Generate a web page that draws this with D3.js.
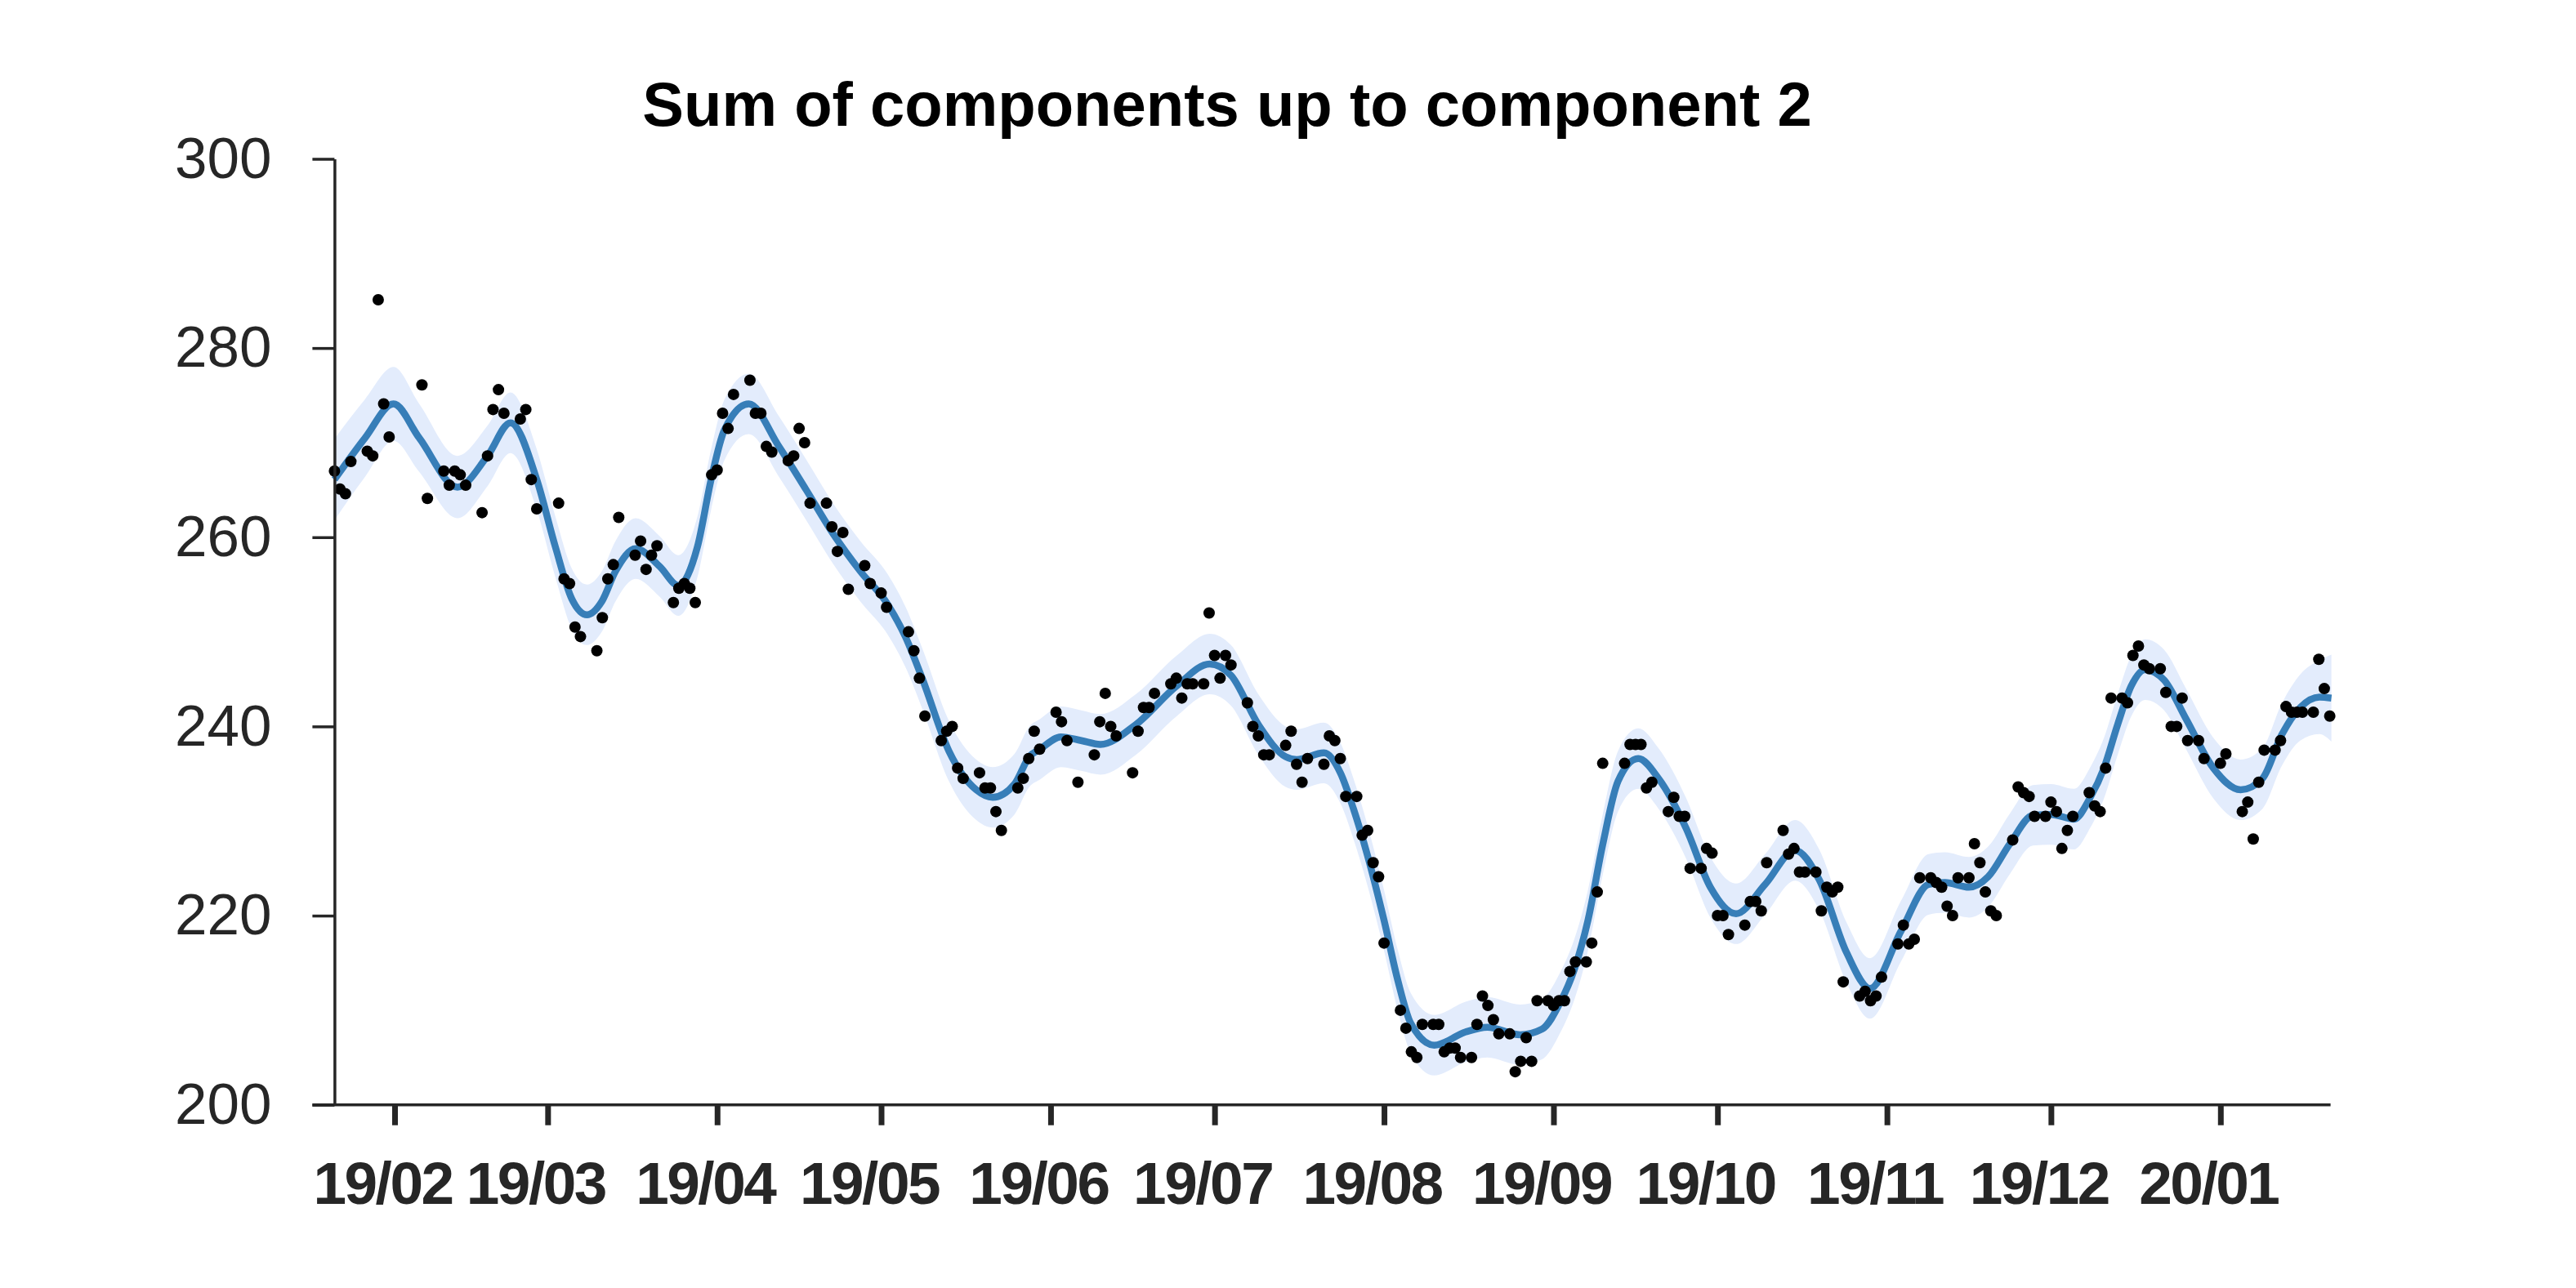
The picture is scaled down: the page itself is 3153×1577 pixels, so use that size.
<!DOCTYPE html>
<html><head><meta charset="utf-8">
<script src="https://cdn.jsdelivr.net/npm/d3@7"></script>
<style>html,body{margin:0;padding:0;background:#fff;}svg{display:block}</style>
</head><body>
<svg id="chart" width="3153" height="1577"></svg>
<script>
// ---------- data ----------
const chartTitle = "Sum of components up to component 2";
const startDate = "2019-01-21";   // day 0
const endDate = "2020-01-21";
const yTickValues = [200, 220, 240, 260, 280, 300];
const xTickFormat = "%y/%m";

// observations: [day offset from startDate, value]
const observations = [
[0,267.0],[1,265.1],[2,264.6],[3,268.0],[6,269.1],[7,268.6],[8,285.1],[9,274.1],[10,270.6],[16,276.1],[17,264.1],
[20,267.0],[21,265.5],[22,267.0],[23,266.6],[24,265.5],[27,262.6],[28,268.6],[29,273.5],[30,275.6],[31,273.1],
[34,272.5],[35,273.5],[36,266.1],[37,263.0],[41,263.6],[42,255.6],[43,255.1],[44,250.5],[45,249.5],[48,248.0],
[49,251.5],[50,255.6],[51,257.1],[52,262.1],[55,258.1],[56,259.6],[57,256.6],[58,258.1],[59,259.1],[62,253.1],
[63,254.6],[64,255.1],[65,254.6],[66,253.1],[69,266.6],[70,267.1],[71,273.1],[72,271.5],[73,275.1],[76,276.6],
[77,273.1],[78,273.1],[79,269.6],[80,269.0],[83,268.1],[84,268.6],[85,271.5],[86,270.0],[87,263.6],[90,263.6],
[91,261.1],[92,258.5],[93,260.5],[94,254.5],[97,257.0],[98,255.1],[100,254.1],[101,252.6],[105,250.0],[106,248.0],
[107,245.1],[108,241.1],[111,238.5],[112,239.5],[113,240.0],[114,235.6],[115,234.5],[118,235.1],[119,233.5],
[120,233.5],[121,231.0],[122,229.0],[125,233.5],[126,234.5],[127,236.6],[128,239.5],[129,237.6],[132,241.5],
[133,240.5],[134,238.5],[136,234.1],[139,237.0],[140,240.5],[141,243.5],[142,240.0],[143,239.0],[146,235.1],
[147,239.5],[148,242.0],[149,242.0],[150,243.5],[153,244.5],[154,245.1],[155,243.0],[156,244.5],[157,244.5],
[159,244.5],[160,252.0],[161,247.5],[162,245.1],[163,247.5],[164,246.5],[167,242.5],[168,240.0],[169,239.0],
[170,237.0],[171,237.0],[174,238.0],[175,239.5],[176,236.0],[177,234.1],[178,236.6],[181,236.0],[182,239.0],
[183,238.5],[184,236.6],[185,232.6],[187,232.6],[188,228.5],[189,229.0],[190,225.6],[191,224.1],[192,217.1],
[195,210.0],[196,208.1],[197,205.6],[198,205.0],[199,208.5],[201,208.5],[202,208.5],[203,205.6],[204,206.0],
[205,206.0],[206,205.0],[208,205.0],[209,208.5],[210,211.5],[211,210.5],[212,209.0],[213,207.5],[215,207.5],
[216,203.5],[217,204.6],[218,207.1],[219,204.6],[220,211.0],[222,211.0],[223,210.5],[224,211.0],[225,211.0],
[226,214.1],[227,215.1],[229,215.1],[230,217.1],[231,222.5],[232,236.1],[236,236.1],[237,238.1],[238,238.1],
[239,238.1],[240,233.5],[241,234.1],[244,231.0],[245,232.5],[246,230.5],[247,230.5],[248,225.0],[250,225.0],
[251,227.1],[252,226.6],[253,220.0],[254,220.0],[255,218.0],[258,219.0],[259,221.5],[260,221.5],[261,220.5],
[262,225.6],[265,229.0],[266,226.5],[267,227.1],[268,224.6],[269,224.6],[271,224.6],[272,220.5],[273,223.0],
[274,222.5],[275,223.0],[276,213.0],[279,211.5],[280,212.0],[281,211.0],[282,211.5],[283,213.5],[286,217.0],
[287,219.0],[288,217.0],[289,217.5],[290,224.0],[292,224.0],[293,223.5],[294,223.0],[295,221.0],[296,220.0],
[297,224.0],[299,224.0],[300,227.6],[301,225.6],[302,222.5],[303,220.5],[304,220.0],[307,228.0],[308,233.6],
[309,233.0],[310,232.6],[311,230.5],[313,230.5],[314,232.0],[315,231.0],[316,227.1],[317,229.0],[318,230.5],
[321,233.0],[322,231.6],[323,231.0],[324,235.6],[325,243.0],[327,243.0],[328,242.5],[329,247.5],[330,248.5],
[331,246.5],[332,246.1],[334,246.1],[335,243.6],[336,240.0],[337,240.0],[338,243.0],[339,238.5],[341,238.5],
[342,236.6],[345,236.1],[346,237.1],[349,231.0],[350,232.0],[351,228.1],[352,234.1],[353,237.5],[355,237.5],
[356,238.5],[357,242.1],[358,241.5],[359,241.5],[360,241.5],[362,241.5],[363,247.1],[364,244.0],[365,241.1]
];

// fitted mean: [day offset, mean value]
const fitMean = [
[0,266.1],[5.6,270.5],[10.8,274.1],[15.5,270.5],[22.5,265.3],[28,268.6],[32.2,272.1],[37,266.1],[40.4,259.0],
[43.4,253.5],[46.2,251.8],[48.9,253.2],[51.4,256.4],[55.1,258.8],[59.5,256.9],[62.9,254.9],[66.4,259.0],
[68.9,266.1],[71.3,271.3],[75.8,274.1],[81.3,269.6],[86.3,265.0],[91.3,260.3],[96.2,256.4],[101.2,252.9],
[104.5,249.4],[107.5,245.1],[112.4,237.4],[117.4,233.3],[120.4,232.5],[124.4,233.9],[127.1,236.8],[129.1,237.6],
[132.9,238.9],[136.6,238.5],[140.1,238.1],[146.6,240.2],[154.1,244.3],[160.1,246.6],[164,245.4],[169,240.2],
[174,236.8],[176,236.5],[181,237.2],[184,235.1],[186.4,231.3],[189,226.3],[192,219.5],[194.5,213.2],[196.9,208.6],
[201.2,206.3],[206.9,207.7],[210.9,208.2],[216.9,207.4],[220.9,208.0],[224.3,210.9],[226.8,214.3],[229.3,219.5],
[232,227.5],[234.8,234.2],[238.5,236.6],[242.2,234.5],[247.2,229.3],[251.7,223.0],[256.4,220.2],[261.7,223.3],
[267.2,226.9],[271.6,223.8],[276.6,216.1],[280.9,212.3],[286.6,218.4],[291.6,223.3],[294.6,223.5],[299,223.0],
[302.5,224.1],[306.5,227.6],[310.7,230.6],[314,230.7],[318.2,230.2],[321.2,232.5],[323.7,235.6],[326.2,240.2],
[328.7,244.3],[331.2,246.0],[334.7,244.9],[338.7,240.8],[343.7,235.6],[348.7,233.3],[352.7,234.5],[356.2,239.1],
[359.6,242.0],[363.1,243.1],[365.3,243.0]
];
// half-width of the shaded band at the same knots
const bandHalfWidth = [
4.3,4.1,3.9,3.6,3.3,3.2,3.2,3.2,3.2,3.2,3.2,3.2,3.2,3.2,3.2,3.2,3.2,3.2,3.2,3.2,3.2,3.2,3.2,3.2,3.2,
3.2,3.2,3.2,3.2,3.2,3.2,3.2,3.2,3.2,3.2,3.2,3.2,3.2,3.2,3.2,3.2,3.2,3.2,3.2,3.2,3.2,3.2,3.2,3.2,3.2,
3.2,3.2,3.2,3.2,3.2,3.2,3.2,3.2,3.2,3.2,3.2,3.2,3.2,3.2,3.2,3.2,3.2,3.2,3.2,3.2,3.2,3.2,3.2,3.2,3.2,
3.2,3.2,3.2,3.2,3.2,3.2,3.2,3.2,3.2,3.2,3.2,3.2,3.2,3.2,3.3,3.5,3.9,4.6
];

// ---------- drawing ----------
const svg = d3.select("#chart");
const ink = "#262626";
const font = "'Liberation Sans', Arial, Helvetica, sans-serif";

const parse = d3.utcParse("%Y-%m-%d");
const t0 = parse(startDate), t1 = parse(endDate);
const toDate = d => new Date(t0.getTime() + d * 864e5);

const plotLeft = 409.4, plotRight = 2851.6, plotTop = 194.5, plotBottom = 1352.7;
const x = d3.scaleUtc().domain([t0, t1]).range([plotLeft, plotRight]);
const y = d3.scaleLinear().domain([200, 300]).range([plotBottom, plotTop]);

const fit = fitMean.map((d, i) => ({date: toDate(d[0]), v: d[1], h: bandHalfWidth[i]}));

// band
svg.append("path")
  .datum(fit)
  .attr("fill", "#e3ecfc")
  .attr("d", d3.area().curve(d3.curveMonotoneX)
    .x(d => x(d.date)).y0(d => y(d.v - d.h)).y1(d => y(d.v + d.h)));

// mean line
svg.append("path")
  .datum(fit)
  .attr("fill", "none")
  .attr("stroke", "#377eb8")
  .attr("stroke-width", 8.5)
  .attr("stroke-linejoin", "round")
  .attr("d", d3.line().curve(d3.curveMonotoneX).x(d => x(d.date)).y(d => y(d.v)));

// points
svg.append("g").selectAll("circle")
  .data(observations)
  .join("circle")
  .attr("cx", d => x(toDate(d[0])))
  .attr("cy", d => y(d[1]))
  .attr("r", 7)
  .attr("fill", "#000");

// y axis
const gy = svg.append("g")
  .attr("transform", `translate(${plotLeft},0)`)
  .call(d3.axisLeft(y).tickValues(yTickValues).tickSize(27).tickPadding(50).tickSizeOuter(0));
gy.select(".domain").attr("stroke", ink).attr("stroke-width", 3.5);
gy.selectAll(".tick line").attr("stroke", ink).attr("stroke-width", 3.5);
gy.selectAll(".tick text").attr("fill", ink).style("font-family", font).style("font-size", "71px");

// x axis
const gx = svg.append("g")
  .attr("transform", `translate(0,${plotBottom})`)
  .call(d3.axisBottom(x).ticks(d3.utcMonth.every(1)).tickFormat(d3.utcFormat(xTickFormat)).tickSize(25));
gx.select(".domain").remove();
gx.append("line")
  .attr("x1", plotLeft - 27).attr("x2", plotRight + 1)
  .attr("stroke", ink).attr("stroke-width", 3.5);
gx.selectAll(".tick line").attr("stroke", ink).attr("stroke-width", 7).attr("y1", 1);
gx.selectAll(".tick text")
  .attr("fill", ink)
  .attr("x", -15)
  .attr("y", 121).attr("dy", 0)
  .style("font-family", font).style("font-weight", "bold").style("font-size", "73px")
  .style("letter-spacing", "-2.5px");

// title
svg.append("text")
  .attr("x", 1502).attr("y", 154)
  .attr("text-anchor", "middle")
  .attr("fill", "#000")
  .style("font-family", font).style("font-weight", "bold").style("font-size", "76px")
  .text(chartTitle);
</script>
</body></html>
